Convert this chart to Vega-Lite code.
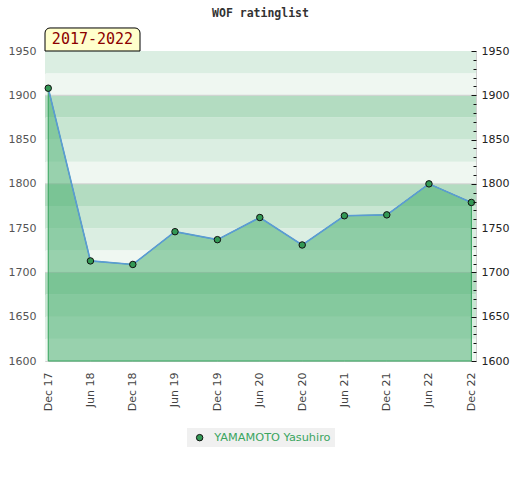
{
  "$schema": "https://vega.github.io/schema/vega-lite/v6.json",
  "width": 431,
  "height": 310,
  "padding": {"left": 5, "top": 7, "right": 5, "bottom": 5},
  "title": {
    "text": "WOF ratinglist",
    "font": "DejaVu Sans Mono",
    "fontSize": 11.5,
    "fontWeight": "bold",
    "color": "#333",
    "anchor": "middle",
    "offset": 8
  },
  "data": {
    "values": [
      {"date": "2017/12/15", "rating": 1908, "player": "YAMAMOTO Yasuhiro"},
      {"date": "2018/06/15", "rating": 1713, "player": "YAMAMOTO Yasuhiro"},
      {"date": "2018/12/15", "rating": 1709, "player": "YAMAMOTO Yasuhiro"},
      {"date": "2019/06/15", "rating": 1746, "player": "YAMAMOTO Yasuhiro"},
      {"date": "2019/12/15", "rating": 1737, "player": "YAMAMOTO Yasuhiro"},
      {"date": "2020/06/15", "rating": 1762, "player": "YAMAMOTO Yasuhiro"},
      {"date": "2020/12/15", "rating": 1731, "player": "YAMAMOTO Yasuhiro"},
      {"date": "2021/06/15", "rating": 1764, "player": "YAMAMOTO Yasuhiro"},
      {"date": "2021/12/15", "rating": 1765, "player": "YAMAMOTO Yasuhiro"},
      {"date": "2022/06/15", "rating": 1800, "player": "YAMAMOTO Yasuhiro"},
      {"date": "2022/12/15", "rating": 1779, "player": "YAMAMOTO Yasuhiro"}
    ]
  },
  "layer": [
    {
      "data": {
        "values": [
          {"lo": 1600, "hi": 1625, "shade": "d"},
          {"lo": 1625, "hi": 1650, "shade": "c"},
          {"lo": 1650, "hi": 1675, "shade": "b"},
          {"lo": 1675, "hi": 1700, "shade": "a"},
          {"lo": 1700, "hi": 1725, "shade": "d"},
          {"lo": 1725, "hi": 1750, "shade": "c"},
          {"lo": 1750, "hi": 1775, "shade": "b"},
          {"lo": 1775, "hi": 1800, "shade": "a"},
          {"lo": 1800, "hi": 1825, "shade": "d"},
          {"lo": 1825, "hi": 1850, "shade": "c"},
          {"lo": 1850, "hi": 1875, "shade": "b"},
          {"lo": 1875, "hi": 1900, "shade": "a"},
          {"lo": 1900, "hi": 1925, "shade": "d"},
          {"lo": 1925, "hi": 1950, "shade": "c"}
        ]
      },
      "mark": {"type": "rect"},
      "encoding": {
        "y": {
          "field": "lo",
          "type": "quantitative",
          "scale": {"domain": [1600, 1950], "nice": false, "zero": false},
          "axis": {
            "orient": "left",
            "title": null,
            "values": [1600, 1650, 1700, 1750, 1800, 1850, 1900, 1950],
            "format": "d",
            "ticks": false,
            "domain": false,
            "grid": false,
            "labelPadding": 9,
            "labelFontSize": 11,
            "labelColor": "#555",
            "minExtent": 40,
            "maxExtent": 40
          }
        },
        "y2": {"field": "hi"},
        "fill": {
          "field": "shade",
          "type": "nominal",
          "scale": {"domain": ["a", "b", "c", "d"], "range": ["#b3dcc1", "#c8e6d2", "#dbeee2", "#eff7f1"]},
          "legend": null
        }
      }
    },
    {
      "data": {"values": [{"level": 1700}, {"level": 1800}, {"level": 1900}]},
      "mark": {"type": "rule", "color": "#d0d0d0", "strokeWidth": 1},
      "encoding": {
        "y": {
          "field": "level",
          "type": "quantitative",
          "scale": {"domain": [1600, 1950], "nice": false, "zero": false},
          "axis": null
        }
      }
    },
    {
      "mark": {
        "type": "area",
        "fill": "#41ac69",
        "fillOpacity": 0.5,
        "stroke": "#34a35c",
        "strokeWidth": 1
      },
      "encoding": {
        "x": {
          "field": "date",
          "type": "temporal",
          "title": null,
          "scale": {
            "domain": [{"year": 2017, "month": 12, "date": 1}, {"year": 2023, "month": 1, "date": 4}]
          },
          "axis": {
            "values": [
              {"year": 2017, "month": 12, "date": 15},
              {"year": 2018, "month": 6, "date": 15},
              {"year": 2018, "month": 12, "date": 15},
              {"year": 2019, "month": 6, "date": 15},
              {"year": 2019, "month": 12, "date": 15},
              {"year": 2020, "month": 6, "date": 15},
              {"year": 2020, "month": 12, "date": 15},
              {"year": 2021, "month": 6, "date": 15},
              {"year": 2021, "month": 12, "date": 15},
              {"year": 2022, "month": 6, "date": 15},
              {"year": 2022, "month": 12, "date": 15}
            ],
            "format": "%b %y",
            "labelAngle": 270,
            "ticks": false,
            "domain": false,
            "grid": false,
            "labelPadding": 11,
            "labelFontSize": 11,
            "labelColor": "#444",
            "labelOverlap": false
          }
        },
        "y": {
          "field": "rating",
          "type": "quantitative",
          "scale": {"domain": [1600, 1950], "nice": false, "zero": false},
          "axis": {
            "orient": "right",
            "title": null,
            "zindex": 1,
            "values": [1600, 1610, 1620, 1630, 1640, 1650, 1660, 1670, 1680, 1690, 1700, 1710, 1720, 1730, 1740, 1750, 1760, 1770, 1780, 1790, 1800, 1810, 1820, 1830, 1840, 1850, 1860, 1870, 1880, 1890, 1900, 1910, 1920, 1930, 1940, 1950],
            "format": "d",
            "labelExpr": "datum.value % 50 === 0 ? datum.label : ''",
            "labelOverlap": false,
            "domain": false,
            "grid": false,
            "tickColor": "#111",
            "tickWidth": 1,
            "tickSize": {"condition": {"test": "datum.value % 50 === 0", "value": -5}, "value": -3},
            "labelPadding": 10,
            "labelFontSize": 11,
            "labelColor": "#222"
          }
        },
        "y2": {"datum": 1600}
      }
    },
    {
      "mark": {"type": "line", "color": "#5b9bd5", "strokeWidth": 1.6},
      "encoding": {
        "x": {"field": "date", "type": "temporal", "title": null},
        "y": {
          "field": "rating",
          "type": "quantitative",
          "scale": {"domain": [1600, 1950], "nice": false, "zero": false},
          "axis": null
        }
      }
    },
    {
      "mark": {"type": "point", "filled": true, "size": 42, "stroke": "#111", "strokeWidth": 1, "opacity": 1},
      "encoding": {
        "x": {"field": "date", "type": "temporal", "title": null},
        "y": {
          "field": "rating",
          "type": "quantitative",
          "scale": {"domain": [1600, 1950], "nice": false, "zero": false},
          "axis": null
        },
        "color": {
          "field": "player",
          "type": "nominal",
          "scale": {"range": ["#339955"]},
          "legend": {
            "title": null,
            "orient": "bottom",
            "direction": "horizontal",
            "fillColor": "#f0f0f0",
            "padding": 4,
            "symbolOffset": 3,
            "labelOffset": 9,
            "symbolType": "circle",
            "symbolSize": 42,
            "symbolStrokeColor": "#111",
            "symbolStrokeWidth": 1,
            "symbolOpacity": 1,
            "labelColor": "#3aa55f",
            "labelFontSize": 11.3,
            "labelFont": "DejaVu Sans",
            "offset": 17
          }
        }
      }
    },
    {
      "data": {"values": [{"label": "2017-2022"}]},
      "mark": {
        "type": "rect",
        "fill": "#ffffcc",
        "stroke": "#000",
        "strokeWidth": 1,
        "cornerRadiusTopLeft": 5,
        "cornerRadiusTopRight": 5,
        "clip": false
      },
      "encoding": {
        "x": {"datum": {"year": 2017, "month": 12, "date": 1}, "type": "temporal", "title": null},
        "x2": {"datum": {"year": 2019, "month": 1, "date": 15}},
        "y": {
          "datum": 1950,
          "type": "quantitative",
          "scale": {"domain": [1600, 1950], "nice": false, "zero": false},
          "axis": null
        },
        "y2": {"datum": 1976}
      }
    },
    {
      "data": {"values": [{"label": "2017-2022"}]},
      "mark": {
        "type": "text",
        "font": "DejaVu Sans Mono",
        "fontSize": 15,
        "color": "#8b0000",
        "align": "center",
        "baseline": "middle",
        "clip": false
      },
      "encoding": {
        "x": {"datum": {"year": 2018, "month": 6, "date": 24}, "type": "temporal", "title": null},
        "y": {
          "datum": 1963,
          "type": "quantitative",
          "scale": {"domain": [1600, 1950], "nice": false, "zero": false},
          "axis": null
        },
        "text": {"field": "label", "type": "nominal"}
      }
    }
  ],
  "resolve": {"axis": {"y": "independent"}},
  "config": {
    "font": "DejaVu Sans",
    "view": {"stroke": "#d0d0d0"},
    "legend": {"layout": {"bottom": {"anchor": "middle"}}}
  }
}
